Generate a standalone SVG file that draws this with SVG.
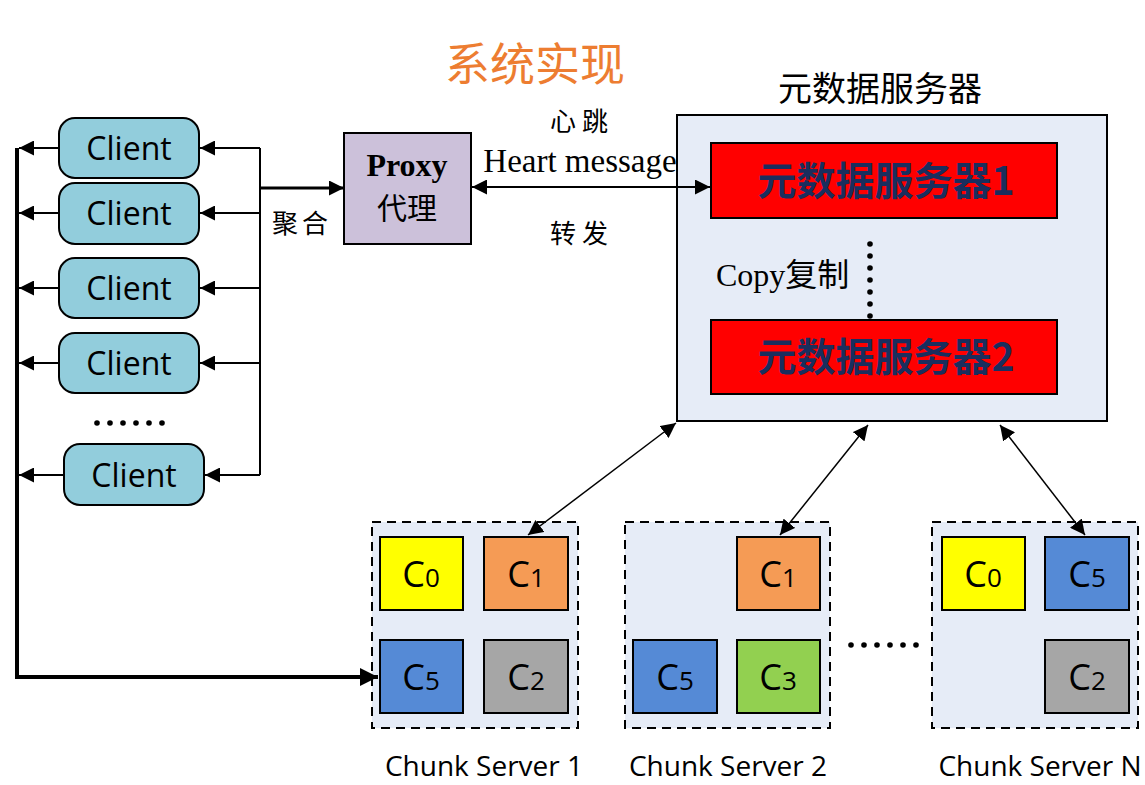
<svg xmlns="http://www.w3.org/2000/svg" width="1145" height="785" viewBox="0 0 1145 785">
<defs>
<marker id="ahb" viewBox="0 0 10 10" refX="10" refY="5" markerWidth="18" markerHeight="18" markerUnits="userSpaceOnUse" orient="auto-start-reverse"><path d="M0,0 L10,5 L0,10 z" fill="#000"/></marker>
<marker id="ahs" viewBox="0 0 10 10" refX="10" refY="5" markerWidth="15" markerHeight="15" markerUnits="userSpaceOnUse" orient="auto-start-reverse"><path d="M0,0 L10,5 L0,10 z" fill="#000"/></marker>
</defs>
<style>
.client{fill:#92cddc;stroke:#000;stroke-width:2}
.ct{font-family:"Open Sans","Noto Sans",sans-serif;font-size:32px;fill:#000;text-anchor:middle}
.cn{font-family:"Noto Sans CJK SC",serif;fill:#000}
.red{fill:#ff0000;stroke:#000;stroke-width:2}
.rt{font-family:"Noto Sans CJK SC",sans-serif;font-weight:bold;font-size:39px;fill:#1a2e5e;text-anchor:middle}
.cs{fill:#e6ecf7;stroke:#000;stroke-width:2;stroke-dasharray:9,6}
.blk{stroke:#000;stroke-width:2}
.bt{font-family:"Open Sans","Noto Sans",sans-serif;font-size:36px;fill:#000;text-anchor:middle}
.bt tspan.s{font-size:26px}
.lbl{font-family:"Open Sans","Noto Sans",sans-serif;font-size:28px;fill:#000;text-anchor:middle}
.ln{stroke:#000;stroke-width:2;fill:none}
.thick{stroke:#000;stroke-width:4;fill:none}
</style>
<rect width="1145" height="785" fill="#fff"/>

<text x="535" y="81" font-family="Noto Sans CJK SC, sans-serif" font-size="45" fill="#ed7d31" text-anchor="middle">系统实现</text>

<g id="client1"><rect class="client" x="59" y="118" width="140" height="60" rx="16"/><text class="ct" x="129" y="160">Client</text></g>
<g id="client2"><rect class="client" x="59" y="183" width="140" height="61" rx="16"/><text class="ct" x="129" y="225">Client</text></g>
<g id="client3"><rect class="client" x="59" y="258" width="140" height="60" rx="16"/><text class="ct" x="129" y="300">Client</text></g>
<g id="client4"><rect class="client" x="59" y="333" width="140" height="60" rx="16"/><text class="ct" x="129" y="375">Client</text></g>
<g id="dots1" fill="#000"><circle cx="97" cy="423" r="2.8"/><circle cx="110" cy="423" r="2.8"/><circle cx="123" cy="423" r="2.8"/><circle cx="136" cy="423" r="2.8"/><circle cx="149" cy="423" r="2.8"/><circle cx="162" cy="423" r="2.8"/></g>
<g id="client5"><rect class="client" x="64" y="444" width="140" height="61" rx="16"/><text class="ct" x="134" y="487">Client</text></g>

<text class="cn" x="302" y="233" font-size="26" text-anchor="middle" letter-spacing="4">聚合</text>

<g id="proxy"><rect x="344" y="133" width="127" height="111" fill="#ccc1da" stroke="#000" stroke-width="2"/>
<text x="407" y="176" font-family="Liberation Serif, serif" font-weight="bold" font-size="32" text-anchor="middle">Proxy</text>
<text class="cn" x="407" y="219" font-size="30" text-anchor="middle">代理</text></g>

<text class="cn" x="582" y="131" font-size="26" text-anchor="middle" letter-spacing="6">心跳</text>
<text x="580" y="172" font-family="Liberation Serif, serif" font-size="33" text-anchor="middle">Heart message</text>
<text class="cn" x="582" y="243" font-size="26" text-anchor="middle" letter-spacing="6">转发</text>

<g id="meta">
<text class="cn" x="880" y="101" font-size="34" text-anchor="middle" style="font-family:'Noto Sans CJK SC',sans-serif">元数据服务器</text>
<rect x="677" y="115" width="430" height="306" fill="#e6ecf7" stroke="#000" stroke-width="2"/>
<g id="meta1"><rect class="red" x="711" y="143" width="346" height="75"/><text class="rt" x="886" y="195">元数据服务器1</text></g>
<g id="meta2"><rect class="red" x="711" y="320" width="346" height="74"/><text class="rt" x="886" y="371">元数据服务器2</text></g>
<g fill="#000"><circle cx="870" cy="244" r="2.8"/><circle cx="870" cy="256" r="2.8"/><circle cx="870" cy="268" r="2.8"/><circle cx="870" cy="280" r="2.8"/><circle cx="870" cy="292" r="2.8"/><circle cx="870" cy="304" r="2.8"/><circle cx="870" cy="316" r="2.8"/></g>
<text x="716" y="286" font-family="Liberation Serif, 'Noto Sans CJK SC', serif" font-size="32">Copy<tspan font-family="Noto Sans CJK SC, serif">复制</tspan></text>
</g>

<g id="cs1">
<rect class="cs" x="372" y="522" width="206" height="206"/>
<rect class="blk" x="380" y="537" width="83" height="73" fill="#ffff00"/><text class="bt" x="421" y="587">C<tspan class="s">0</tspan></text>
<rect class="blk" x="484" y="537" width="84" height="73" fill="#f59b55"/><text class="bt" x="526" y="587">C<tspan class="s">1</tspan></text>
<rect class="blk" x="380" y="640" width="83" height="73" fill="#558ad6"/><text class="bt" x="421" y="690">C<tspan class="s">5</tspan></text>
<rect class="blk" x="484" y="640" width="84" height="73" fill="#a6a6a6"/><text class="bt" x="526" y="690">C<tspan class="s">2</tspan></text>
</g>
<g id="cs2">
<rect class="cs" x="625" y="522" width="205" height="206"/>
<rect class="blk" x="737" y="537" width="83" height="73" fill="#f59b55"/><text class="bt" x="778" y="587">C<tspan class="s">1</tspan></text>
<rect class="blk" x="633" y="640" width="84" height="73" fill="#558ad6"/><text class="bt" x="675" y="690">C<tspan class="s">5</tspan></text>
<rect class="blk" x="737" y="640" width="83" height="73" fill="#92d050"/><text class="bt" x="778" y="690">C<tspan class="s">3</tspan></text>
</g>
<g id="dots2" fill="#000"><circle cx="851" cy="645" r="2.8"/><circle cx="864" cy="645" r="2.8"/><circle cx="877" cy="645" r="2.8"/><circle cx="890" cy="645" r="2.8"/><circle cx="903" cy="645" r="2.8"/><circle cx="916" cy="645" r="2.8"/></g>
<g id="csn">
<rect class="cs" x="932" y="522" width="206" height="206"/>
<rect class="blk" x="942" y="537" width="83" height="73" fill="#ffff00"/><text class="bt" x="983" y="587">C<tspan class="s">0</tspan></text>
<rect class="blk" x="1045" y="537" width="84" height="73" fill="#558ad6"/><text class="bt" x="1087" y="587">C<tspan class="s">5</tspan></text>
<rect class="blk" x="1045" y="640" width="84" height="73" fill="#a6a6a6"/><text class="bt" x="1087" y="690">C<tspan class="s">2</tspan></text>
</g>
<text class="lbl" x="484" y="776">Chunk Server 1</text>
<text class="lbl" x="728" y="776">Chunk Server 2</text>
<text class="lbl" x="1040" y="776">Chunk Server N</text>

<g id="connectors">
<polyline class="thick" points="17,148 17,677 378,677" marker-end="url(#ahb)"/>
<line class="ln" x1="59" y1="148" x2="19" y2="148" marker-end="url(#ahs)"/>
<line class="ln" x1="59" y1="213" x2="19" y2="213" marker-end="url(#ahs)"/>
<line class="ln" x1="59" y1="288" x2="19" y2="288" marker-end="url(#ahs)"/>
<line class="ln" x1="59" y1="363" x2="19" y2="363" marker-end="url(#ahs)"/>
<line class="ln" x1="64" y1="475" x2="19" y2="475" marker-end="url(#ahs)"/>
<line class="ln" x1="260" y1="148" x2="260" y2="475"/>
<line class="ln" x1="260" y1="148" x2="200" y2="148" marker-end="url(#ahs)"/>
<line class="ln" x1="260" y1="213" x2="200" y2="213" marker-end="url(#ahs)"/>
<line class="ln" x1="260" y1="288" x2="200" y2="288" marker-end="url(#ahs)"/>
<line class="ln" x1="260" y1="363" x2="200" y2="363" marker-end="url(#ahs)"/>
<line class="ln" x1="260" y1="475" x2="205" y2="475" marker-end="url(#ahs)"/>
<line class="ln" x1="260" y1="188" x2="344" y2="188" style="stroke-width:3" marker-end="url(#ahs)"/>
<line class="ln" x1="472" y1="187" x2="710" y2="187" marker-start="url(#ahs)" marker-end="url(#ahs)"/>
<line class="ln" x1="676" y1="423" x2="528" y2="535" style="stroke-width:1.5" marker-start="url(#ahs)" marker-end="url(#ahs)"/>
<line class="ln" x1="868" y1="425" x2="780" y2="535" style="stroke-width:1.5" marker-start="url(#ahs)" marker-end="url(#ahs)"/>
<line class="ln" x1="1000" y1="425" x2="1085" y2="535" style="stroke-width:1.5" marker-start="url(#ahs)" marker-end="url(#ahs)"/>
</g>
</svg>
